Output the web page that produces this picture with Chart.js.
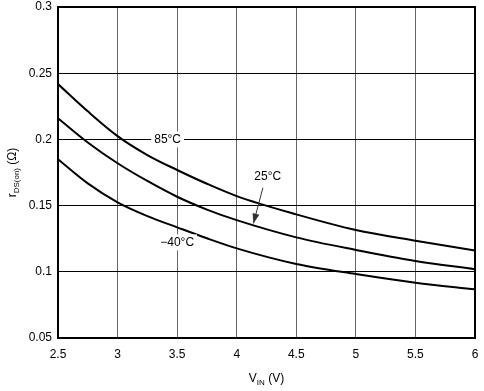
<!DOCTYPE html>
<html><head><meta charset="utf-8">
<script src="https://cdn.jsdelivr.net/npm/chart.js@4/dist/chart.umd.min.js"></script>
<style>html,body{margin:0;padding:0;background:#fff}#wrap{width:484px;height:391px}</style>
</head><body><div id="wrap"><canvas id="c"></canvas></div>
<script>
const vin = [2.5, 2.75, 3, 3.25, 3.5, 3.75, 4, 4.5, 5, 5.5, 6];
const r85 = [0.2418, 0.2212, 0.2025, 0.1882, 0.1769, 0.1665, 0.1572, 0.1434, 0.1316, 0.1235, 0.116];
const r25 = [0.216, 0.1977, 0.182, 0.1686, 0.1567, 0.147, 0.139, 0.126, 0.1165, 0.1082, 0.102];
const rm40 = [0.185, 0.1668, 0.1525, 0.1421, 0.1336, 0.1253, 0.1177, 0.1059, 0.0983, 0.0918, 0.0868];
const xTicks = [2.5, 3, 3.5, 4, 4.5, 5, 5.5, 6];
const yTicks = [0.05, 0.1, 0.15, 0.2, 0.25, 0.3];
const FONT = '"Liberation Sans", Arial, sans-serif';

function pts(ys){ return vin.map((x,i)=>({x:x,y:ys[i]})); }
function ds(ys){ return {data:pts(ys), borderColor:'#000', borderWidth:2, pointRadius:0, cubicInterpolationMode:'monotone', fill:false}; }

const annot = {
  id:'annot',
  afterDatasetsDraw(chart){
    const ctx = chart.ctx, xs = chart.scales.x, ys = chart.scales.y;
    ctx.save();
    ctx.font = '12px ' + FONT;
    ctx.textAlign = 'center'; ctx.textBaseline = 'middle';
    function lab(t, x, y){
      const w = ctx.measureText(t).width;
      ctx.fillStyle = '#fff';
      ctx.fillRect(x - w/2 - 3, y - 8, w + 6, 16);
      ctx.fillStyle = '#000';
      ctx.fillText(t, x, y);
    }
    lab('85°C', xs.getPixelForValue(3.42), ys.getPixelForValue(0.2));
    lab('25°C', xs.getPixelForValue(4.26), ys.getPixelForValue(0.172));
    lab('\u221240°C', xs.getPixelForValue(3.5), ys.getPixelForValue(0.1222));
    const x1 = xs.getPixelForValue(4.22), y1 = ys.getPixelForValue(0.1635);
    const x2 = xs.getPixelForValue(4.14), y2 = ys.getPixelForValue(0.1365);
    ctx.strokeStyle = '#333'; ctx.lineWidth = 1;
    ctx.beginPath(); ctx.moveTo(x1,y1); ctx.lineTo(x2,y2); ctx.stroke();
    const a = Math.atan2(y2-y1, x2-x1), L = 10, W = 3.5;
    ctx.fillStyle = '#333';
    ctx.beginPath();
    ctx.moveTo(x2,y2);
    ctx.lineTo(x2 - L*Math.cos(a) + W*Math.sin(a), y2 - L*Math.sin(a) - W*Math.cos(a));
    ctx.lineTo(x2 - L*Math.cos(a) - W*Math.sin(a), y2 - L*Math.sin(a) + W*Math.cos(a));
    ctx.closePath(); ctx.fill();
    const ca = chart.chartArea;
    ctx.fillStyle = '#000';
    ctx.textAlign = 'left'; ctx.textBaseline = 'alphabetic';
    const big = '12px ' + FONT, small = '8px ' + FONT;
    function composite(parts){ let w=0; parts.forEach(p=>{ctx.font=p[1]; w+=ctx.measureText(p[0]).width;}); return w; }
    const xp = [['V',big,0],['IN',small,3],[' (V)',big,0]];
    let tw = composite(xp);
    let cx = (ca.left+ca.right)/2 - tw/2, by = 382;
    xp.forEach(p=>{ctx.font=p[1]; ctx.fillText(p[0], cx, by+p[2]); cx += ctx.measureText(p[0]).width;});
    const yp = [['r',big,0],['DS(on)',small,3],[' (\u03A9)',big,0]];
    tw = composite(yp);
    ctx.translate(16, (ca.top+ca.bottom)/2);
    ctx.rotate(-Math.PI/2);
    cx = -tw/2;
    yp.forEach(p=>{ctx.font=p[1]; ctx.fillText(p[0], cx, 0+p[2]); cx += ctx.measureText(p[0]).width;});
    ctx.restore();
  }
};

new Chart(document.getElementById('c'), {
  type:'line',
  data:{datasets:[ds(r85), ds(r25), ds(rm40)]},
  options:{
    responsive:true, maintainAspectRatio:false, animation:false,
    layout:{padding:{left:0,right:9,top:7,bottom:0}},
    plugins:{legend:{display:false}, tooltip:{enabled:false}},
    scales:{
      x:{type:'linear', min:2.5, max:6,
        afterBuildTicks(s){ s.ticks = xTicks.map(v=>({value:v})); },
        afterFit(s){ s.height = 53; s.paddingLeft = 0; s.paddingRight = 0; },
        grid:{color:'#666', lineWidth:1, drawTicks:false},
        border:{color:'#000', width:2},
        ticks:{padding:9, color:'#000', font:{family:FONT, size:12}, maxRotation:0, callback:v=>String(v)}
      },
      y:{type:'linear', min:0.05, max:0.3,
        afterBuildTicks(s){ s.ticks = yTicks.map(v=>({value:v})); },
        afterFit(s){ s.width = 58; s.paddingTop = 0; s.paddingBottom = 0; },
        grid:{color:'#000', lineWidth:1, drawTicks:false},
        border:{color:'#000', width:2},
        ticks:{padding:6, color:'#000', font:{family:FONT, size:12}, callback:v=>String(v)}
      }
    }
  },
  plugins:[annot, {
    id:'frame',
    afterDraw(chart){
      const ctx=chart.ctx, ca=chart.chartArea;
      ctx.save(); ctx.strokeStyle='#000'; ctx.lineWidth=2;
      ctx.strokeRect(ca.left, ca.top, ca.right-ca.left, ca.bottom-ca.top);
      ctx.restore();
    }
  }]
});
</script></body></html>
